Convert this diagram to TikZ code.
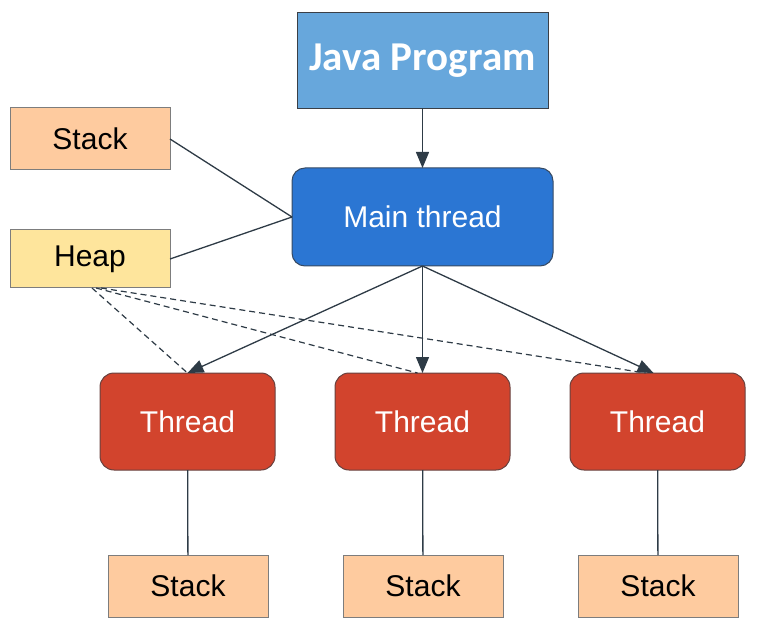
\documentclass[tikz,border=0pt]{standalone}
\usepackage{fontspec}
\setmainfont{Liberation Sans}
\newfontfamily\calfont{Carlito}
\usetikzlibrary{arrows.meta}
\definecolor{javafill}{HTML}{67A7DC}
\definecolor{mainfill}{HTML}{2B76D3}
\definecolor{thrfill}{HTML}{D2442D}
\definecolor{stackfill}{HTML}{FECB9F}
\definecolor{heapfill}{HTML}{FEE59C}
\definecolor{edgecol}{HTML}{2E3B46}
\definecolor{boxline}{HTML}{3A3F46}
\definecolor{greyline}{HTML}{7D7D7D}
\tikzset{
  box/.style={rectangle, inner sep=0pt, outer sep=0pt, line width=1pt},
  javabox/.style={box, fill=javafill, draw=boxline, minimum width=251pt, minimum height=96pt,
    text=white, font=\calfont\bfseries\fontsize{41}{41}\selectfont},
  mainbox/.style={box, rounded corners=13pt, fill=mainfill, draw=boxline!80!mainfill, minimum width=261pt, minimum height=98pt,
    text=white, font=\fontsize{30}{30}\selectfont},
  thrbox/.style={box, rounded corners=14pt, fill=thrfill, draw=boxline!70!thrfill, minimum width=175pt, minimum height=97pt,
    text=white, font=\fontsize{30}{30}\selectfont},
  stackbox/.style={box, fill=stackfill, draw=greyline, minimum width=160pt, minimum height=62pt,
    text=black, font=\fontsize{30}{30}\selectfont},
  heapbox/.style={box, fill=heapfill, draw=greyline, minimum width=160pt, minimum height=58pt,
    text=black, font=\fontsize{30}{30}\selectfont},
  conn/.style={draw=edgecol, line width=1.3pt},
  arr/.style={conn, -{Triangle[length=16pt,width=13pt]}},
  dashline/.style={draw=edgecol, line width=1.2pt, dash pattern=on 6pt off 4pt},
}
\begin{document}
\begin{tikzpicture}[x=1pt,y=-1pt]
\useasboundingbox (0,0) rectangle (758,631);
\node[javabox] (java) at (422.5,60.5) {Java Program};
\node[mainbox] (main) at (422.5,217) {Main thread};
\node[stackbox] (stk0) at (90,139) {Stack};
\node[heapbox] (heap) at (90,259) {Heap};
\node[thrbox] (t1) at (187.5,421.5) {Thread};
\node[thrbox] (t2) at (422.5,421.5) {Thread};
\node[thrbox] (t3) at (657.5,421.5) {Thread};
\node[stackbox] (s1) at (188,586) {Stack};
\node[stackbox] (s2) at (423,586) {Stack};
\node[stackbox] (s3) at (658,586) {Stack};

\coordinate (h1) at (92,288);
\coordinate (h2) at (96,288);
\coordinate (h3) at (101,288);
\coordinate (d1) at ([xshift=0pt]t1.north);
\coordinate (d2) at ([xshift=-5pt]t2.north);
\coordinate (d3) at ([xshift=-12pt]t3.north);
\coordinate (a3) at ([xshift=-4pt]t3.north);

\draw[dashline] (h1) -- (d1);
\draw[dashline] (h2) -- (d2);
\draw[dashline] (h3) -- (d3);

\draw[arr] (java) -- (main);
\draw[conn] (stk0.east) -- (main.west);
\draw[conn] (heap.east) -- (main.west);
\draw[arr] (main.south) -- (t1.north);
\draw[arr] (main.south) -- (t2.north);
\draw[arr] (main.south) -- (a3);
\draw[conn] (t1) -- (s1);
\draw[conn] (t2) -- (s2);
\draw[conn] (t3) -- (s3);
\end{tikzpicture}
\end{document}
